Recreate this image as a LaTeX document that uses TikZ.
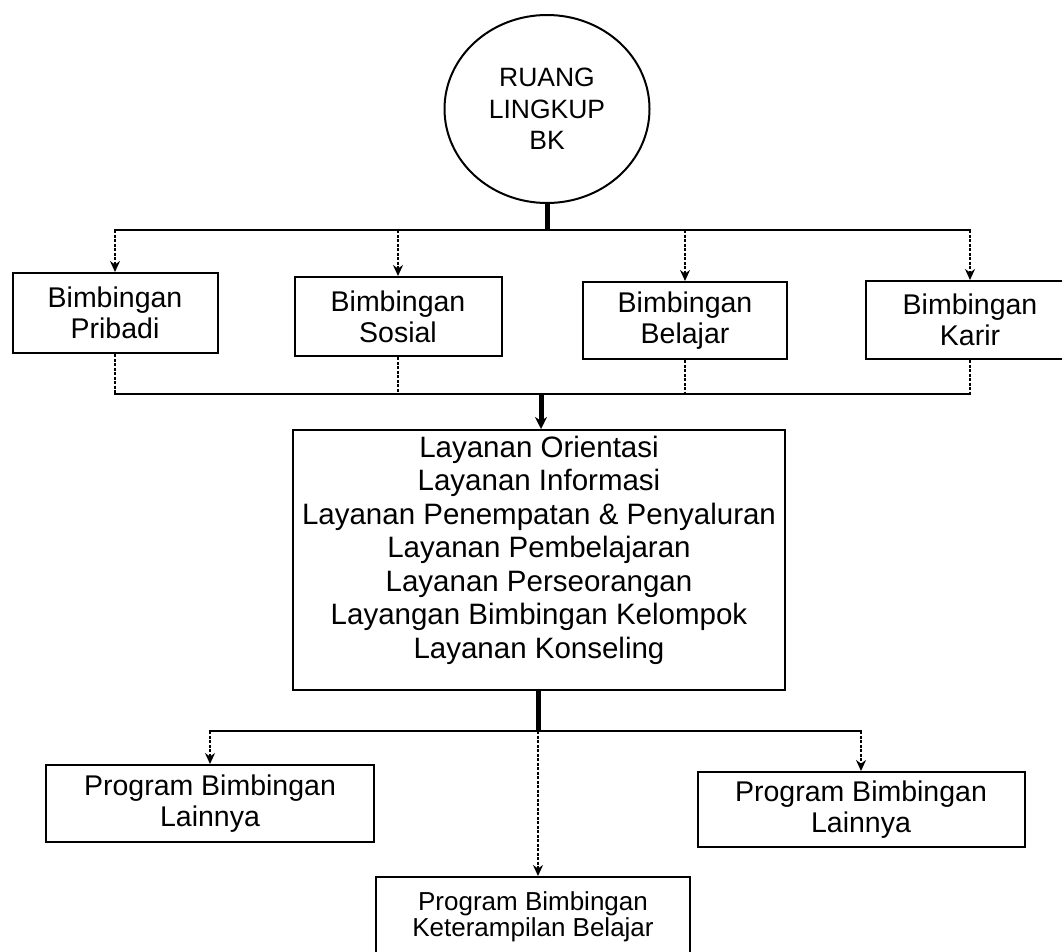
\documentclass[tikz,border=0pt]{standalone}
\usepackage{fontspec}
\setmainfont{Liberation Sans}
\usetikzlibrary{arrows.meta,shapes.geometric}

\begin{document}
\begin{tikzpicture}[x=1pt,y=-1pt,
  box/.style={draw, line width=2pt, rectangle, align=center, inner sep=0pt,
    font=\fontsize{28.5}{31}\selectfont},
  smallbox/.style={box, font=\fontsize{26}{26.5}\selectfont},
  stem/.style={line width=5pt},
  bar/.style={line width=2.2pt, line cap=rect},
  feed/.style={line width=1.5pt, dash pattern=on 3pt off 1.5pt},
  drop/.style={feed, -{Stealth[length=11pt,width=10pt]}},
]
\fill[white] (0,0) rectangle (1062,952);
\useasboundingbox (0,0) rectangle (1062,952);
\clip (0,0) rectangle (1062,952);

% root circle
\node[ellipse, draw, line width=2pt, minimum width=205pt, minimum height=188pt,
  align=center, inner sep=0pt, font=\fontsize{26.5}{31.5}\selectfont]
  (ruang) at (547,109) {RUANG\\LINGKUP\\BK};

% four guidance fields
\node[box, minimum width=205pt, minimum height=80pt] (pribadi) at (115,313) {Bimbingan\\Pribadi};
\node[box, minimum width=207pt, minimum height=79pt] (sosial) at (398,316.5) {Bimbingan\\Sosial};
\node[box, minimum width=204pt, minimum height=77pt] (belajar) at (685,320.5) {Bimbingan\\Belajar};
\node[box, minimum width=208pt, minimum height=78pt] (karir) at (970,320) {Bimbingan\\Karir};

% services
\node[box, minimum width=492pt, minimum height=260pt] (layanan) at (539,560) {};
\node[align=center, inner sep=0pt, font=\fontsize{29.5}{33.5}\selectfont]
  (layananTeks) at (539,550)
  {Layanan Orientasi\\Layanan Informasi\\Layanan Penempatan \& Penyaluran\\
   Layanan Pembelajaran\\Layanan Perseorangan\\Layangan Bimbingan Kelompok\\
   Layanan Konseling};

% programmes
\node[box, minimum width=328pt, minimum height=77pt] (lainnyaKiri) at (210,803.5) {Program Bimbingan\\Lainnya};
\node[box, minimum width=327pt, minimum height=75pt] (lainnyaKanan) at (861,809.5) {Program Bimbingan\\Lainnya};
\node[smallbox, minimum width=314pt, minimum height=80pt] (keterampilan) at (533,917) {Program Bimbingan\\Keterampilan Belajar};

% circle to the four fields
\coordinate (topbar) at (547,230);
\draw[stem] (ruang.south) -- (topbar);
\draw[bar] (pribadi.north |- topbar) -- (karir.north |- topbar);
\foreach \n in {pribadi,sosial,belajar,karir}
  \draw[drop] (\n.north |- topbar) -- (\n.north);

% four fields into the services
\coordinate (colbar) at (541,394);
\foreach \n in {pribadi,sosial,belajar,karir}
  \draw[feed] (\n.south) -- (\n.south |- colbar);
\draw[bar] (pribadi.south |- colbar) -- (karir.south |- colbar);
\draw[stem, -{Stealth[length=12pt,width=12pt]}] (colbar) -- (colbar |- layanan.north);

% services to the programmes
\coordinate (midbar) at (538,731);
\draw[stem] (layanan.south -| midbar) -- (midbar);
\draw[bar] (lainnyaKiri.north |- midbar) -- (lainnyaKanan.north |- midbar);
\draw[drop] (lainnyaKiri.north |- midbar) -- (lainnyaKiri.north);
\draw[drop] (lainnyaKanan.north |- midbar) -- (lainnyaKanan.north);
\draw[drop] (midbar) -- (midbar |- keterampilan.north);
\end{tikzpicture}
\end{document}
